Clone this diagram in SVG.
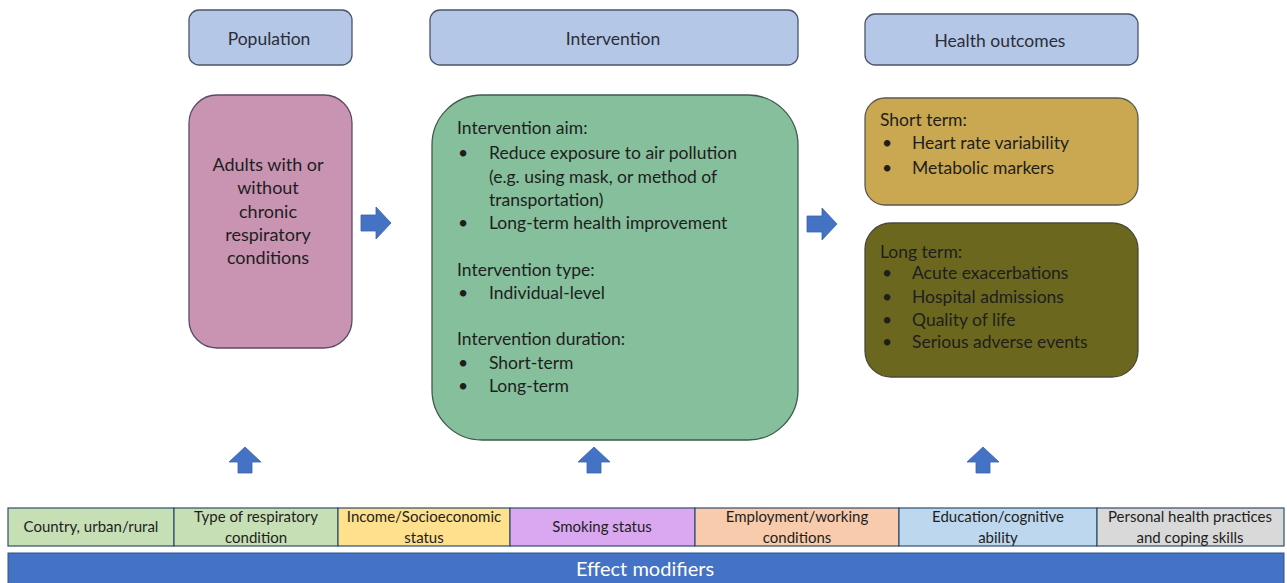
<svg xmlns="http://www.w3.org/2000/svg" width="1287" height="583" viewBox="0 0 1287 583">
<defs>
<style>
text{font-family:Lato,"Open Sans","Liberation Sans",sans-serif;fill:#1E1E1E;}
.hdr{fill:#B4C7E7;stroke:#4A5568;stroke-width:1.3;}
.ht{font-size:17.5px;text-anchor:middle;fill:#2A2E38;}
.bt{font-size:17.5px;}
.ct{font-size:15px;text-anchor:middle;}
.cell{stroke:#2E4E6E;stroke-width:1.2;}
.arr{fill:#4472C4;stroke:#3A62A8;stroke-width:0.8;}
</style>
<path id="ra" d="M0,-8 H15 V-16 L30,0 L15,16 V8 H0 Z"/>
<path id="ua" d="M-7,0 V-11 H-16 L0,-26 L16,-11 H7 V0 Z"/>
</defs>
<rect width="1287" height="583" fill="#FFFFFF"/>

<g id="hdr-population">
<rect class="hdr" x="189" y="10" width="163" height="55" rx="10"/>
<text class="ht" x="269" y="45">Population</text>
</g>
<g id="hdr-intervention">
<rect class="hdr" x="430" y="10" width="368" height="55" rx="10"/>
<text class="ht" x="613" y="45">Intervention</text>
</g>
<g id="hdr-outcomes">
<rect class="hdr" x="865" y="14" width="273" height="51" rx="10"/>
<text class="ht" x="1000" y="47">Health outcomes</text>
</g>

<g id="population">
<rect x="189" y="95" width="163" height="253" rx="28" fill="#C894B2" stroke="#5C4A66" stroke-width="1.3"/>
<text class="bt" text-anchor="middle" style="font-size:18px"><tspan x="268" y="171">Adults with or</tspan><tspan x="268" y="194">without</tspan><tspan x="268" y="218">chronic</tspan><tspan x="268" y="241">respiratory</tspan><tspan x="268" y="264">conditions</tspan></text>
</g>

<g id="intervention">
<rect x="432" y="95" width="366" height="345" rx="50" fill="#86BF9B" stroke="#3E5B4C" stroke-width="1.3"/>
<text class="bt">
<tspan x="457" y="134">Intervention aim:</tspan>
<tspan x="458" y="159">•</tspan><tspan x="489" y="159">Reduce exposure to air pollution</tspan>
<tspan x="489" y="183">(e.g. using mask, or method of</tspan>
<tspan x="489" y="206">transportation)</tspan>
<tspan x="458" y="229">•</tspan><tspan x="489" y="229">Long-term health improvement</tspan>
<tspan x="457" y="276">Intervention type:</tspan>
<tspan x="458" y="299">•</tspan><tspan x="489" y="299">Individual-level</tspan>
<tspan x="457" y="345">Intervention duration:</tspan>
<tspan x="458" y="369">•</tspan><tspan x="489" y="369">Short-term</tspan>
<tspan x="458" y="392">•</tspan><tspan x="489" y="392">Long-term</tspan>
</text>
</g>

<g id="short-term">
<rect x="865" y="98" width="273" height="107" rx="20" fill="#C9A851" stroke="#5A5A4A" stroke-width="1.3"/>
<text class="bt">
<tspan x="880" y="126">Short term:</tspan>
<tspan x="882" y="149">•</tspan><tspan x="912" y="149">Heart rate variability</tspan>
<tspan x="882" y="174">•</tspan><tspan x="912" y="174">Metabolic markers</tspan>
</text>
</g>

<g id="long-term">
<rect x="865" y="223" width="273" height="154" rx="26" fill="#6B671E" stroke="#4A4A3A" stroke-width="1.3"/>
<text class="bt">
<tspan x="880" y="258">Long term:</tspan>
<tspan x="882" y="279">•</tspan><tspan x="912" y="279">Acute exacerbations</tspan>
<tspan x="882" y="303">•</tspan><tspan x="912" y="303">Hospital admissions</tspan>
<tspan x="882" y="326">•</tspan><tspan x="912" y="326">Quality of life</tspan>
<tspan x="882" y="348">•</tspan><tspan x="912" y="348">Serious adverse events</tspan>
</text>
</g>

<g id="connectors">
<use href="#ra" class="arr" x="361" y="223"/>
<use href="#ra" class="arr" x="807" y="224"/>
<use href="#ua" class="arr" x="245" y="473"/>
<use href="#ua" class="arr" x="594" y="473"/>
<use href="#ua" class="arr" x="983" y="473"/>
</g>

<g id="modifiers">
<rect class="cell" x="8" y="508" width="166" height="38" fill="#C6DFB5"/>
<text class="ct" x="91" y="532">Country,  urban/rural</text>
<rect class="cell" x="174" y="508" width="164" height="38" fill="#C6DFB5"/>
<text class="ct" x="256" y="522">Type of respiratory</text><text class="ct" x="256" y="543">condition</text>
<rect class="cell" x="338" y="508" width="172" height="38" fill="#FFE08C"/>
<text class="ct" x="424" y="522">Income/Socioeconomic</text><text class="ct" x="424" y="543">status</text>
<rect class="cell" x="510" y="508" width="185" height="38" fill="#D9A8F0"/>
<text class="ct" x="602" y="532">Smoking status</text>
<rect class="cell" x="695" y="508" width="204" height="38" fill="#F8CBAD"/>
<text class="ct" x="797" y="522">Employment/working</text><text class="ct" x="797" y="543">conditions</text>
<rect class="cell" x="899" y="508" width="198" height="38" fill="#BDD7EE"/>
<text class="ct" x="998" y="522">Education/cognitive</text><text class="ct" x="998" y="543">ability</text>
<rect class="cell" x="1097" y="508" width="187" height="38" fill="#D9D9D9"/>
<text class="ct" x="1190" y="522">Personal health practices</text><text class="ct" x="1190" y="543">and coping skills</text>
</g>

<g id="effect-modifiers">
<rect x="8" y="553" width="1276" height="32" fill="#4472C4" stroke="#2F528F" stroke-width="1"/>
<text x="645" y="576" text-anchor="middle" style="fill:#FFFFFF;font-size:20px;">Effect modifiers</text>
</g>
</svg>
